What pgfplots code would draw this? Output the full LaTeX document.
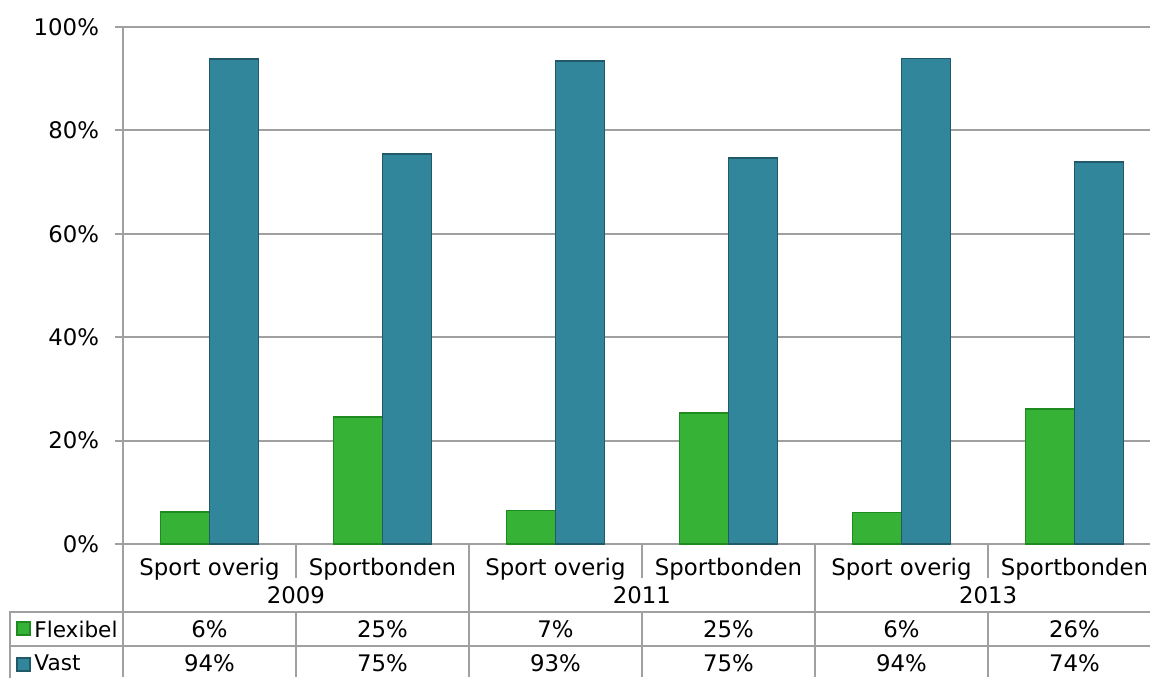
\documentclass[border=0pt]{standalone}
\usepackage{fontspec}
\setmainfont{DejaVu Sans}
\usepackage{pgfplots}
\pgfplotsset{compat=1.18}

\definecolor{flexfill}{HTML}{36B236}
\definecolor{flexline}{HTML}{1F8A1F}
\definecolor{vastfill}{HTML}{31869B}
\definecolor{vastline}{HTML}{215968}
\definecolor{gridgray}{HTML}{A0A0A0}

\newcommand{\lbl}{\fontsize{11.4}{14}\selectfont}

\begin{document}
\begin{tikzpicture}
\useasboundingbox (-61.5pt,-66.5pt) rectangle (513.5pt,272pt);
\begin{axis}[
    at={(0,0)}, anchor=south west,
    scale only axis,
    width=519pt, height=258.5pt,
    xmin=-0.5, xmax=5.5,
    ymin=0, ymax=100,
    ybar=0pt, bar width=24.5pt,
    xtick={0,...,5},
    xticklabels={Sport overig,Sportbonden,Sport overig,Sportbonden,Sport overig,Sportbonden},
    ytick={0,20,...,100},
    yticklabel={\pgfmathprintnumber{\tick}\%},
    /pgf/number format/assume math mode=true,
    axis line style={draw=none},
    ymajorgrids,
    grid style={gridgray, line width=1pt},
    tick align=outside,
    major tick length=4pt,
    xtick style={draw=none},
    ytick style={gridgray, line width=1pt},
    tick label style={font=\lbl},
    yticklabel style={xshift=-4.5pt},
    xticklabel style={anchor=center, yshift=-8.5pt},
    clip=false,
]
% Flexibel
\addplot[fill=flexfill, draw=flexline, line width=0.9pt]
  coordinates {(0,6.2) (1,24.6) (2,6.5) (3,25.4) (4,6.1) (5,26.1)};
% Vast
\addplot[fill=vastfill, draw=vastline, line width=0.9pt]
  coordinates {(0,93.8) (1,75.4) (2,93.5) (3,74.6) (4,93.9) (5,73.9)};
\end{axis}

% data table below the axis (1 px = 0.5pt, origin at axis corner)
\begin{scope}[x=0.5pt, y=0.5pt, gridgray, line width=1pt]
  \draw (0,517) -- (0,-133);
  \foreach \s in {173,519,865} {
    \draw (\s,0) -- (\s,-34);
    \draw (\s,-68) -- (\s,-133);
  }
  \foreach \s in {346,692} \draw (\s,0) -- (\s,-133);
  \draw (-113,-136) -- (-113,-68) -- (1040,-68);
  \draw (-113,-102) -- (1040,-102);
  \draw (1038,0) -- (1038,-133);
\end{scope}

\begin{scope}[x=0.5pt, y=0.5pt, font=\lbl]
  \node at (173,-51) {2009};
  \node at (519,-51) {2011};
  \node at (865,-51) {2013};
  % legend keys
  \filldraw[fill=flexfill, draw=flexline, line width=0.6pt] (-106,-78) rectangle (-93,-91);
  \filldraw[fill=vastfill, draw=vastline, line width=0.6pt] (-106,-114) rectangle (-93,-127);
  \node[anchor=west, inner sep=0pt, font=\fontsize{10.8}{13}\selectfont] at (-89,-85) {Flexibel};
  \node[anchor=west, inner sep=0pt, font=\fontsize{10.8}{13}\selectfont] at (-89,-119) {Vast};
  % values
  \foreach \v [count=\i from 0] in {6\%,25\%,7\%,25\%,6\%,26\%}
    \node at ({86.5+173*\i},-85) {\v};
  \foreach \v [count=\i from 0] in {94\%,75\%,93\%,75\%,94\%,74\%}
    \node at ({86.5+173*\i},-119) {\v};
\end{scope}
\end{tikzpicture}
\end{document}
